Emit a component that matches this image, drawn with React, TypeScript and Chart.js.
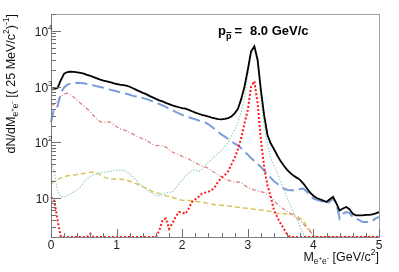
import { useEffect, useRef } from "react";
import { Chart, registerables } from "chart.js";

Chart.register(...registerables);

const FONT = '"Liberation Sans", Arial, Helvetica, sans-serif';

// invariant mass bins (GeV/c^2)
const masses = [
  0, 0.05, 0.1, 0.15, 0.2, 0.25, 0.3, 0.35, 0.4, 0.45,
  0.5, 0.55, 0.6, 0.65, 0.7, 0.75, 0.8, 0.85, 0.9, 0.95,
  1, 1.05, 1.1, 1.15, 1.2, 1.25, 1.3, 1.35, 1.4, 1.45,
  1.5, 1.55, 1.6, 1.65, 1.7, 1.75, 1.8, 1.85, 1.9, 1.95,
  2, 2.05, 2.1, 2.15, 2.2, 2.25, 2.3, 2.35, 2.4, 2.45,
  2.5, 2.55, 2.6, 2.65, 2.7, 2.75, 2.8, 2.85, 2.9, 2.95,
  3, 3.05, 3.1, 3.15, 3.2, 3.25, 3.3, 3.35, 3.4, 3.45,
  3.5, 3.55, 3.6, 3.65, 3.7, 3.75, 3.8, 3.85, 3.9, 3.95,
  4, 4.05, 4.1, 4.15, 4.2, 4.25, 4.3, 4.35, 4.4, 4.45,
  4.5, 4.55, 4.6, 4.65, 4.7, 4.75, 4.8, 4.85, 4.9, 4.95,
  5,
];

const totalSum = [
  885, 900, 950, 1300, 1700, 1820, 1840, 1830, 1800, 1750,
  1700, 1620, 1560, 1480, 1400, 1330, 1280, 1240, 1200, 1150,
  1110, 1080, 1060, 1040, 990, 930, 870, 820, 770, 730,
  680, 640, 600, 565, 540, 510, 485, 460, 440, 425,
  410, 400, 380, 360, 340, 325, 310, 300, 290, 278,
  268, 260, 258, 262, 272, 290, 330, 400, 600, 1000,
  2000, 4300, 5300, 3000, 850, 300, 135, 95, 75, 58,
  46, 38, 32, 28, 25, 23, 21, 18, 15, 12.5,
  11, 10, 9.5, 9, 8.5, 9.5, 10.5, 8, 6, 6.5,
  6.9, 6.3, 5.2, 4.9, 4.9, 4.9, 5.0, 5.0, 5.1, 5.3,
  5.6,
];

const blueDashed = [
  232, 420, 440, 780, 960, 1080, 1130, 1160, 1165, 1160,
  1140, 1110, 1080, 1050, 1010, 980, 950, 920, 880, 850,
  820, 790, 760, 740, 710, 680, 660, 640, 620, 600,
  570, 540, 510, 485, 460, 430, 400, 375, 350, 330,
  310, 295, 282, 270, 258, 246, 236, 228, 210, 190,
  170, 152, 137, 126, 115, 104, 95, 88, 78, 68,
  60, 52, 46, 41, 36, 31, 27, 23, 20, 18,
  16.5, 14.8, 14, 13.8, 13.8, 14, 14.5, 14.8, 13, 11,
  9.8, 9.3, 8.9, 8.5, 8.0, 8.6, 9.8, 8, 4.3, 5.2,
  5.6, 5.4, 4.6, 4.3, 4.0, 3.7, 3.7, 3.7, 3.9, 4.3,
  4.6,
];

const redDashDot = [
  460, 480, 560, 660, 740, 760, 720, 640, 570, 500,
  450, 400, 350, 300, 260, 235, 228, 232, 230, 210,
  190, 175, 168, 160, 150, 140, 130, 122, 115, 110,
  100, 92, 88, 87, 86, 82, 74, 67, 63, 60,
  56, 53, 50, 46, 43, 40, 38, 36, 34, 31,
  28, 26, 24, 22, 21, 20, 19, 19.5, 19, 17,
  15.5, 14.5, 14, 13.5, 13, 12.5, 11.5, 10.5, 9, 7.8,
  7, 6.3, 5.8, 5.2, 4.8, 4.3, 4, 3.4, 2.9, 2.5,
  2.1, 2, 2, 2, 2, 2, 2, 2, 2, 2,
  2, 2, 2, 2, 2, 2, 2, 2, 2, 2,
  2,
];

const greenDotted = [
  42, 30, 13, 10.5, 10.5, 11, 12, 13, 14, 16,
  19, 22, 24.5, 26, 27.5, 28.5, 29, 29.5, 30, 31,
  31.6, 31.6, 31.6, 30, 27, 24, 21, 18, 16, 14.5,
  13, 12, 11.2, 11, 11.5, 12.3, 12.6, 13, 15, 18,
  21, 25, 28, 31, 32, 30, 33, 38, 44, 50,
  57, 63, 72, 85, 101, 130, 165, 220, 350, 650,
  1600, 3800, 4800, 2500, 600, 200, 90, 52, 38, 28,
  20, 14, 10, 7.5, 5.4, 4.1, 3.0, 2.2, 2, 2,
  2, 2, 2, 2, 2, 2, 2, 2, 2, 2,
  2, 2, 2, 2, 2, 2, 2, 2, 2, 2,
  2,
];

const yellowDashed = [
  18, 20, 21.5, 23, 24, 25, 25.6, 26, 26.5, 27,
  27.5, 28.5, 29, 29, 28, 26, 24, 23, 22, 22,
  22, 22, 21.5, 21, 20, 19, 18, 17, 16, 15,
  14, 13, 12.5, 12, 11.5, 11, 10.7, 10.3, 9.8, 9.4,
  9.1, 9, 9, 8.9, 8.8, 8.6, 8.4, 8.2, 8, 7.8,
  7.6, 7.5, 7.4, 7.3, 7.2, 7.1, 7.0, 6.8, 6.7, 6.6,
  6.5, 6.4, 6.3, 6.2, 6.1, 6.0, 5.9, 5.7, 5.5, 5.3,
  5.2, 5.2, 5.2, 5.2, 5.1, 4.7, 4.3, 3.8, 3.1, 2.6,
  2.1, 2, 2, 2, 2, 2, 2, 2, 2, 2,
  2, 2, 2, 2, 2, 2, 2, 2, 2, 2,
  2,
];

const redDotted = [
  10.5, 9, 4, 2, 2, 2, 2, 2, 2, 2,
  2, 2, 2.3, 2, 2, 2, 2, 2, 2, 2,
  2, 2, 2, 2, 2, 2, 2, 2, 2, 2,
  2, 2, 2, 2.6, 4, 4.3, 2.8, 3.5, 4.6, 5.6,
  5.5, 5.2, 6.5, 8.5, 9.5, 10.5, 12, 12.5, 13, 13.8,
  16, 20, 23, 26, 30, 40, 52, 75, 120, 220,
  380, 1000, 1250, 500, 110, 35, 17, 10.5, 6, 4.5,
  3.5, 2.8, 2.2, 2, 2, 2, 2, 2, 2, 2,
  2, 2, 2, 2, 2, 2, 2, 2, 2, 2,
  2, 2, 2, 2, 2, 2, 2, 2, 2, 2,
  2,
];

const xMajorTicks = [0, 1, 2, 3, 4, 5];
const xTickLabels = ["0", "1", "2", "3", "4", "5"];
const yMajorTicks = [10, 100, 1000, 10000];
const yTickExponents = ["", "2", "3", "4"];

const X_MIN = 0;
const X_MAX = 5;
const Y_MIN = 2;
const Y_MAX = 20000;

type Part = { text: string; size: number; dy?: number; bold?: boolean };

function partsWidth(ctx: CanvasRenderingContext2D, parts: Part[]) {
  let w = 0;
  for (const p of parts) {
    ctx.font = `${p.bold ? "bold " : ""}${p.size}px ${FONT}`;
    w += ctx.measureText(p.text).width;
  }
  return w;
}

function drawParts(ctx: CanvasRenderingContext2D, parts: Part[], x: number, y: number) {
  let cx = x;
  for (const p of parts) {
    ctx.font = `${p.bold ? "bold " : ""}${p.size}px ${FONT}`;
    ctx.fillText(p.text, cx, y + (p.dy || 0));
    cx += ctx.measureText(p.text).width;
  }
  return cx;
}

const toPoints = (vals: number[]) => masses.map((m, i) => ({ x: m, y: vals[i] }));

export default function App() {
  const canvasRef = useRef<HTMLCanvasElement | null>(null);

  useEffect(() => {
    const canvas = canvasRef.current;
    if (!canvas) return;

    const decor = {
      id: "rootDecor",
      afterDraw(chart: any) {
        const ctx: CanvasRenderingContext2D = chart.ctx;
        const a = chart.chartArea;
        const xs = chart.scales.x;
        const ys = chart.scales.y;
        ctx.save();
        ctx.setLineDash([]);
        // frame
        ctx.lineWidth = 1;
        ctx.strokeStyle = "#a0a0a0";
        ctx.strokeRect(a.left + 0.5, a.top + 0.5, a.right - a.left, a.bottom - a.top);
        ctx.strokeStyle = "#808080";
        ctx.beginPath();
        ctx.moveTo(a.left + 0.5, a.top);
        ctx.lineTo(a.left + 0.5, a.bottom + 0.5);
        ctx.lineTo(a.right + 0.5, a.bottom + 0.5);
        ctx.stroke();

        // x ticks
        ctx.strokeStyle = "#707070";
        ctx.beginPath();
        for (let i = 0; i <= 25; i++) {
          const v = X_MIN + (i * (X_MAX - X_MIN)) / 25;
          const px = Math.round(xs.getPixelForValue(v)) + 0.5;
          const len = i % 5 === 0 ? 8 : 4;
          ctx.moveTo(px, a.bottom);
          ctx.lineTo(px, a.bottom - len);
        }
        // y ticks
        for (let d = 0; d <= 4; d++) {
          const base = Math.pow(10, d);
          for (let k = 1; k <= 9; k++) {
            const v = base * k;
            if (v < Y_MIN || v > Y_MAX) continue;
            const py = Math.round(ys.getPixelForValue(v)) + 0.5;
            const len = k === 1 ? 10 : 5;
            ctx.moveTo(a.left, py);
            ctx.lineTo(a.left + len, py);
          }
        }
        ctx.stroke();

        // tick labels
        ctx.fillStyle = "#222";
        ctx.textBaseline = "alphabetic";
        ctx.font = `12px ${FONT}`;
        ctx.textAlign = "center";
        xMajorTicks.forEach((v, i) => {
          ctx.fillText(xTickLabels[i], xs.getPixelForValue(v), a.bottom + 12);
        });
        ctx.textAlign = "left";
        yMajorTicks.forEach((v, i) => {
          const py = ys.getPixelForValue(v);
          const parts: Part[] = [{ text: "10", size: 12 }];
          if (yTickExponents[i]) parts.push({ text: yTickExponents[i], size: 8, dy: -6 });
          const w = partsWidth(ctx, parts);
          const right = yTickExponents[i] ? 52.5 : 49;
          drawParts(ctx, parts, right - w, py + 5);
        });

        // x title
        ctx.fillStyle = "#111";
        const xt: Part[] = [
          { text: "M", size: 12.5 },
          { text: "e", size: 8.5, dy: 3 },
          { text: "+", size: 6, dy: -1 },
          { text: "e", size: 8.5, dy: 3 },
          { text: "-", size: 7, dy: -1 },
          { text: " [GeV/c", size: 12.5 },
          { text: "2", size: 8.5, dy: -6 },
          { text: "]", size: 12.5 },
        ];
        const xw = partsWidth(ctx, xt);
        drawParts(ctx, xt, a.right - xw, 261);

        // y title (rotated)
        const yt: Part[] = [
          { text: "dN/dM", size: 12.5 },
          { text: "e", size: 8.5, dy: 3 },
          { text: "+", size: 6, dy: -1 },
          { text: "e", size: 8.5, dy: 3 },
          { text: "-", size: 7, dy: -1 },
          { text: " [( 25 MeV/c", size: 12.5 },
          { text: "2", size: 8.5, dy: -6 },
          { text: ")", size: 12.5 },
          { text: "-1", size: 8.5, dy: -6 },
          { text: "]", size: 12.5 },
        ];
        const yw = partsWidth(ctx, yt);
        ctx.save();
        ctx.translate(15, 14 + yw);
        ctx.rotate(-Math.PI / 2);
        drawParts(ctx, yt, 0, 0);
        ctx.restore();

        // annotation
        ctx.fillStyle = "#000";
        let cx = drawParts(ctx, [{ text: "p", size: 13, bold: true }], 218, 35);
        ctx.font = `bold 9px ${FONT}`;
        const sw = ctx.measureText("p").width;
        ctx.fillText("p", cx, 39);
        ctx.lineWidth = 1;
        ctx.strokeStyle = "#000";
        ctx.beginPath();
        ctx.moveTo(cx + 0.5, 32.5);
        ctx.lineTo(cx + sw, 32.5);
        ctx.stroke();
        cx += sw + 2;
        ctx.font = `bold 13px ${FONT}`;
        ctx.fillText("=", cx + 1, 35);
        ctx.fillText("8.0 GeV/c", 250, 35);
        ctx.restore();
      },
    };

    const chart = new Chart(canvas, {
      type: "line",
      data: {
        datasets: [
          {
            data: toPoints(totalSum),
            borderColor: "#000000",
            borderWidth: 1.8,
            pointRadius: 0,
            clip: false,
            order: 0,
          },
          {
            data: toPoints(redDotted),
            borderColor: "#ff1a1a",
            borderWidth: 2,
            borderDash: [2, 2],
            pointRadius: 0,
            clip: false,
            order: 1,
          },
          {
            data: toPoints(greenDotted),
            borderColor: "#9ad3bd",
            borderWidth: 1.2,
            borderDash: [1.5, 1.5],
            pointRadius: 0,
            clip: false,
            order: 2,
          },
          {
            data: toPoints(blueDashed),
            borderColor: "#7b9cd9",
            borderWidth: 2,
            borderDash: [12, 5],
            pointRadius: 0,
            clip: false,
            order: 3,
          },
          {
            data: toPoints(redDashDot),
            borderColor: "#e07a7a",
            borderWidth: 1.2,
            borderDash: [4, 2, 1, 2],
            pointRadius: 0,
            clip: false,
            order: 4,
          },
          {
            data: toPoints(yellowDashed),
            borderColor: "#d8c462",
            borderWidth: 1.5,
            borderDash: [5, 3],
            pointRadius: 0,
            clip: false,
            order: 5,
          },
        ],
      },
      options: {
        animation: false,
        responsive: false,
        maintainAspectRatio: false,
        layout: { padding: { left: 51, right: 20, top: 14, bottom: 35 } },
        plugins: { legend: { display: false }, tooltip: { enabled: false } },
        scales: {
          x: { type: "linear", min: X_MIN, max: X_MAX, display: false },
          y: { type: "logarithmic", min: Y_MIN, max: Y_MAX, display: false },
        },
      },
      plugins: [decor],
    } as any);

    return () => chart.destroy();
  }, []);

  return (
    <div style={{ position: "fixed", left: 0, top: 0, width: 399, height: 272, background: "#fff" }}>
      <canvas ref={canvasRef} width={399} height={272} style={{ display: "block" }} />
    </div>
  );
}
